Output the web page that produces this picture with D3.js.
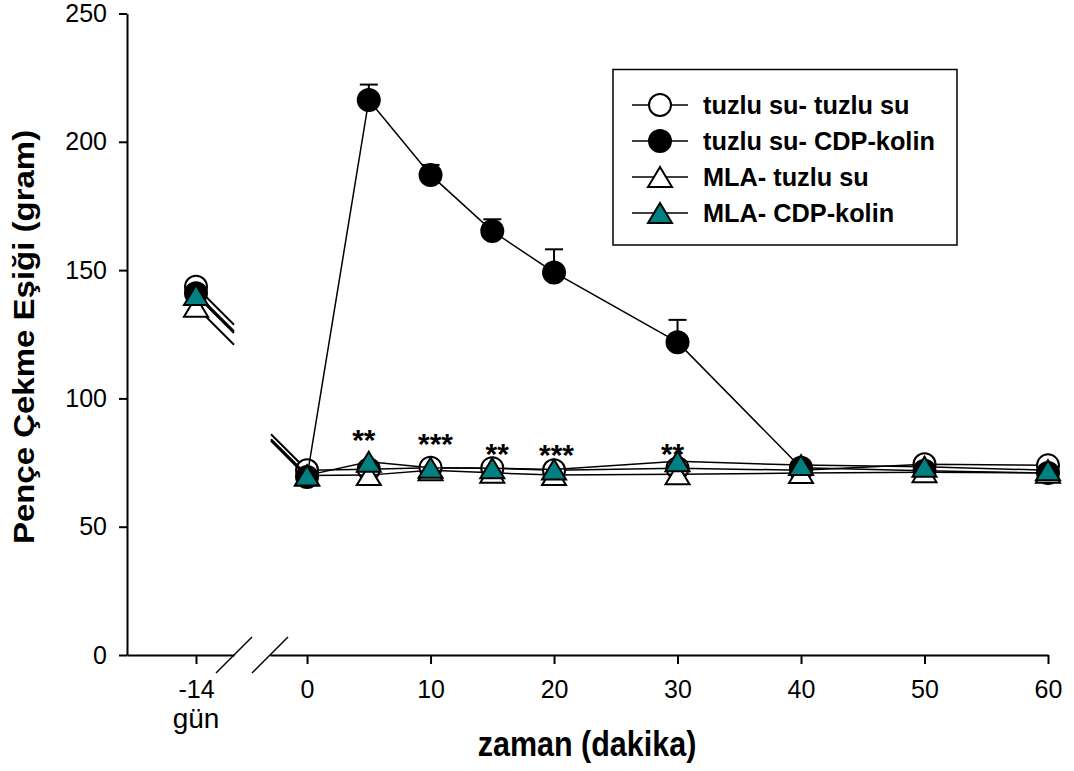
<!DOCTYPE html>
<html>
<head>
<meta charset="utf-8">
<script src="https://cdn.jsdelivr.net/npm/d3@7"></script>
<style>
  body { margin: 0; background: #fff; }
  text { font-family: "Liberation Sans", Arial, sans-serif; }
</style>
</head>
<body>
<svg id="chart" width="1074" height="771"></svg>
<script>
// time points (minutes); -14 is the baseline day, drawn on its own short axis
const preTime = -14
const times = [0, 5, 10, 15, 20, 30, 40, 50, 60]

// paw withdrawal threshold (gram)
const salineSaline = { pre: 143.5, vals: [72.0, 72.4, 73.0, 72.8, 72.0, 72.8, 72.0, 74.3, 73.9] }
const salineCdp    = { pre: 141.0, vals: [69.4, 216.3, 187.1, 165.2, 149.1, 121.9, 73.0, 71.8, 70.9] }
const mlaSaline    = { pre: 135.7, vals: [70.0, 70.1, 72.0, 71.0, 70.1, 70.4, 70.9, 71.2, 71.0] }
const mlaCdp       = { pre: 140.3, vals: [70.0, 75.3, 73.0, 72.8, 72.3, 75.5, 74.0, 73.4, 72.0] }

// upper error bars of the CDP-kolin group (top of bar)
const cdpErrTimes = [5, 10, 15, 20, 30]
const cdpErrTop   = [222.3, 191.0, 169.8, 158.1, 130.6]

// significance marks
const starTimes  = [4.6, 10.4, 15.4, 20.2, 29.6]
const starLabels = ["**", "***", "**", "***", "**"]
const starLevels = [79.7, 78.5, 74.4, 74.2, 74.4]

const yTicks = [0, 50, 100, 150, 200, 250]
const xTicks = [0, 10, 20, 30, 40, 50, 60]

const seriesNames = ["tuzlu su- tuzlu su", "tuzlu su- CDP-kolin", "MLA- tuzlu su", "MLA- CDP-kolin"]
const seriesData = [salineSaline, salineCdp, mlaSaline, mlaCdp]
const seriesShape = ["circle", "circle", "triangle", "triangle"]
const seriesFill = ["#ffffff", "#000000", "#ffffff", "#008080"]

const svg = d3.select("#chart")

// scales
const y = d3.scaleLinear().domain([0, 250]).range([655, 13.5])
const xPre = d3.scaleLinear().domain([-20.9, -10.2]).range([127, 234])
const xMain = d3.scaleLinear().domain([-3, 60]).range([270, 1048])

// axes
const yAxis = d3.axisLeft(y).tickValues(yTicks).tickSize(8).tickSizeOuter(0).tickPadding(12)
const gy = svg.append("g").attr("transform", "translate(127,0)").call(yAxis)
gy.selectAll("text").style("font-size", "25px").attr("fill", "#000")

const preAxis = d3.axisBottom(xPre).tickValues([preTime]).tickFormat(d => String(d))
  .tickSize(9).tickSizeOuter(0).tickPadding(16)
const gp = svg.append("g").attr("transform", "translate(0,655)").call(preAxis)
gp.selectAll("text").style("font-size", "25px").attr("fill", "#000")

const mainAxis = d3.axisBottom(xMain).tickValues(xTicks).tickSize(9).tickSizeOuter(0).tickPadding(16)
const gm = svg.append("g").attr("transform", "translate(0,655)").call(mainAxis)
gm.selectAll("text").style("font-size", "25px").attr("fill", "#000")

svg.selectAll(".domain, .tick line").attr("stroke", "#000").attr("stroke-width", 2)

// axis break slashes, centred on the two broken axis ends
const slashW = 36
;[xPre.range()[1], xMain.range()[0]].forEach(cx => {
  svg.append("line")
    .attr("x1", cx - slashW / 2).attr("y1", 655 + 18)
    .attr("x2", cx + slashW / 2).attr("y2", 655 - 18)
    .attr("stroke", "#000").attr("stroke-width", 1.5)
})

svg.append("text").attr("x", xPre(preTime)).attr("y", 728)
  .attr("text-anchor", "middle").style("font-size", "28px").text("gün")

// axis titles
svg.append("text")
  .attr("transform", "translate(587,756) scale(1,1.12)")
  .attr("text-anchor", "middle").style("font-size", "30.5px").style("font-weight", "bold")
  .text("zaman (dakika)")

svg.append("text")
  .attr("transform", "translate(34,337) rotate(-90) scale(1.1,1)")
  .attr("text-anchor", "middle").style("font-size", "30px").style("font-weight", "bold")
  .text("Pençe Çekme Eşiği (gram)")

// marker drawing
function triPath(cx, cy, w, h) {
  const p = d3.path()
  p.moveTo(cx, cy - h / 2)
  p.lineTo(cx + w / 2, cy + h / 2)
  p.lineTo(cx - w / 2, cy + h / 2)
  p.closePath()
  return p.toString()
}
function drawMarker(g, shape, fill, cx, cy) {
  if (shape === "circle") {
    g.append("circle").attr("cx", cx).attr("cy", cy).attr("r", 11)
      .attr("fill", fill).attr("stroke", "#000").attr("stroke-width", 2)
  } else {
    g.append("path").attr("d", triPath(cx, cy, 24, 20))
      .attr("fill", fill).attr("stroke", "#000").attr("stroke-width", 2)
  }
}

// error bars (drawn under markers)
const eg = svg.append("g")
cdpErrTimes.forEach((t, i) => {
  const cx = xMain(t)
  const v = salineCdp.vals[times.indexOf(t)]
  eg.append("line").attr("x1", cx).attr("x2", cx).attr("y1", y(v)).attr("y2", y(cdpErrTop[i]))
    .attr("stroke", "#000").attr("stroke-width", 2)
  eg.append("line").attr("x1", cx - 9).attr("x2", cx + 9).attr("y1", y(cdpErrTop[i])).attr("y2", y(cdpErrTop[i]))
    .attr("stroke", "#000").attr("stroke-width", 2)
})

const line = d3.line().x(d => xMain(d[0])).y(d => y(d[1]))

seriesData.forEach((s, k) => {
  const g = svg.append("g")
  const pts = times.map((t, i) => [t, s.vals[i]])
  g.append("path").attr("d", line(pts)).attr("fill", "none")
    .attr("stroke", "#000").attr("stroke-width", 1.5)

  // 45-degree stubs into the axis break
  const px = xPre(preTime), py = y(s.pre)
  const d1 = xPre.range()[1] - px
  g.append("line").attr("x1", px).attr("y1", py).attr("x2", px + d1).attr("y2", py + d1)
    .attr("stroke", "#000").attr("stroke-width", 2)
  const x0 = xMain(0), y0 = y(s.vals[0])
  const d2 = x0 - (xMain.range()[0] + 1)
  g.append("line").attr("x1", x0 - d2).attr("y1", y0 - d2).attr("x2", x0).attr("y2", y0)
    .attr("stroke", "#000").attr("stroke-width", 2)

  drawMarker(g, seriesShape[k], seriesFill[k], px, py)
  pts.forEach(d => drawMarker(g, seriesShape[k], seriesFill[k], xMain(d[0]), y(d[1])))
})

// significance stars
starTimes.forEach((t, i) => {
  svg.append("text").attr("x", xMain(t)).attr("y", y(starLevels[i]))
    .attr("text-anchor", "middle").style("font-size", "30px").style("font-weight", "bold")
    .text(starLabels[i])
})

// legend
const lg = svg.append("g")
lg.append("rect").attr("x", 613).attr("y", 69.5).attr("width", 344).attr("height", 175.5)
  .attr("fill", "#fff").attr("stroke", "#000").attr("stroke-width", 1.5)
const rowY = d3.scaleLinear().domain([0, 3]).range([105, 213])
seriesNames.forEach((name, k) => {
  const ry = rowY(k)
  lg.append("line").attr("x1", 632).attr("x2", 688).attr("y1", ry).attr("y2", ry)
    .attr("stroke", "#000").attr("stroke-width", 1.5)
  drawMarker(lg, seriesShape[k], seriesFill[k], 660, ry)
  lg.append("text").attr("x", 703).attr("y", ry + 9)
    .style("font-size", "25.3px").style("font-weight", "bold").text(name)
})
</script>
</body>
</html>
